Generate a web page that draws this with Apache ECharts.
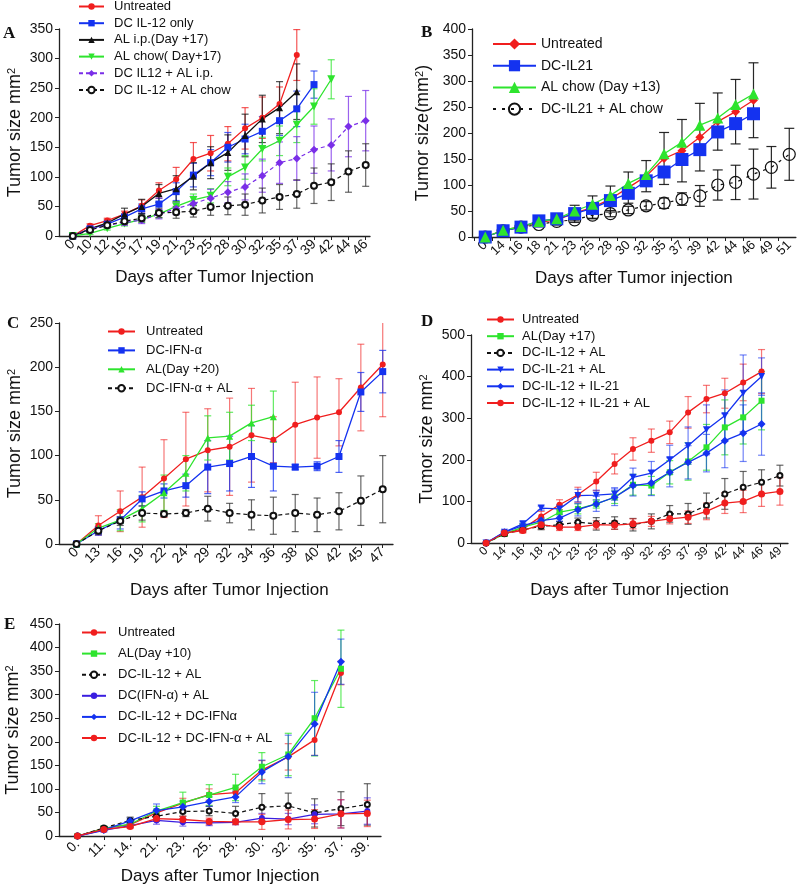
<!DOCTYPE html>
<html>
<head>
<meta charset="utf-8">
<title>Tumor size after DC / AL treatment</title>
<script src="https://cdn.jsdelivr.net/npm/echarts@6/dist/echarts.min.js"></script>
<style>
  html, body { margin: 0; padding: 0; background: #fff; }
  #chart { width: 798px; height: 888px; }
</style>
</head>
<body>
<div id="chart"></div>
<script>
// ---- panel A ----
const daysA = ['0', '10', '12', '15', '17', '19', '21', '23', '25', '28', '30', '32', '35', '37', '39', '42', '44', '46']
const aUntreated = [0, 17.5, 26, 37, 51, 77, 96, 130, 140, 156, 182, 200, 223, 306]
const aUntreatedErr = [0, 3, 4, 5, 10, 13, 20, 28, 30, 29, 35, 35, 29, 43]
const aDcIl12 = [0, 12, 20, 32, 46, 54, 75, 103, 124, 150, 164, 177, 195, 215, 256]
const aDcIl12Err = [0, 3, 4, 5, 8, 10, 15, 20, 22, 25, 25, 25, 25, 30, 23]
const aAlIp = [0, 12, 22, 37, 50, 72, 80, 101, 124, 141, 170, 198, 217, 244]
const aAlIpErr = [0, 3, 5, 10, 12, 15, 22, 23, 27, 30, 36, 40, 44, 47]
const aAlChow = [0, 4.5, 13, 21, 28, 37, 50, 61, 68, 100, 116, 147, 161, 188, 219, 265]
const aAlChowErr = [0, 2, 3, 4, 5, 6, 8, 10, 12, 15, 20, 20, 25, 30, 30, 33]
const aDcIl12AlIp = [0, 12, 18, 23, 27, 37, 46, 55, 64, 74, 83, 102, 124, 131, 146, 154, 185, 195]
const aDcIl12AlIpErr = [0, 3, 4, 5, 6, 8, 10, 12, 15, 18, 22, 28, 35, 37, 40, 44, 51, 51]
const aDcIl12Chow = [0, 10, 18, 25, 30, 39, 40, 42, 49, 51, 53, 60, 66, 71, 85, 91, 109, 120]
const aDcIl12ChowErr = [0, 3, 4, 5, 6, 8, 10, 10, 14, 15, 18, 21, 21, 24, 30, 31, 35, 36]

// ---- panel B ----
const daysB = ['0', '14', '16', '18', '21', '23', '25', '28', '30', '32', '35', '37', '39', '42', '44', '46', '49', '51']
const bUntreated = [0, 13, 20, 28, 33, 46, 57, 73, 95, 117, 151, 166, 192, 222, 241, 263]
const bUntreatedErr = [0, 3, 4, 8, 10, 15, 22, 25, 30, 30, 50, 60, 65, 55, 62, 72]
const bDcIl21 = [0, 12, 19, 31, 35, 45, 55, 70, 84, 108, 125, 149, 168, 202, 218, 237]
const bAlChow = [0, 13, 20, 30, 35, 50, 63, 80, 103, 120, 160, 182, 215, 229, 255, 275]
const bDcIl21Chow = [0, 12, 19, 24, 30, 33, 42, 45, 52, 60, 65, 73, 79, 100, 105, 121, 134, 159]
const bDcIl21ChowErr = [0, 2, 3, 4, 4, 5, 6, 6, 7, 8, 10, 12, 20, 29, 33, 48, 40, 50]

// ---- panel C ----
const daysC = ['0', '13', '16', '19', '22', '24', '29', '32', '34', '36', '38', '40', '42', '45', '47']
const cUntreated = [0, 21, 37, 53, 74, 96, 106, 110, 123, 118, 135, 143, 149, 177, 203]
const cUntreatedErr = [0, 11, 23, 34, 44, 53, 47, 55, 53, 26, 48, 46, 38, 49, 59]
const cDcIfn = [0, 15, 27, 51, 60, 66, 87, 91, 99, 88, 87, 88, 99, 172, 195]
const cDcIfnErr = [0, 5, 10, 8, 8, 13, 30, 31, 35, 28, 3, 5, 18, 22, 24]
const cAl = [0, 18, 27, 40, 58, 80, 120, 122, 137, 144]
const cAlErr = [0, 5, 12, 15, 20, 20, 25, 27, 20, 29]
const cDcIfnAl = [0, 15, 26, 35, 34, 35, 40, 35, 33, 32, 35, 33, 37, 49, 62]
const cDcIfnAlErr = [0, 4, 5, 8, 3, 4, 14, 11, 17, 21, 21, 19, 21, 28, 38]

// ---- panel D ----
const daysD = ['0', '14', '16', '18', '21', '23', '25', '28', '30', '32', '35', '37', '39', '42', '44', '46', '49']
const dUntreated = [0, 24, 34, 64, 92, 116, 148, 190, 226, 246, 266, 314, 346, 360, 386, 412]
const dUntreatedErr = [0, 5, 8, 12, 12, 18, 22, 24, 27, 28, 27, 38, 33, 36, 44, 53]
const dAl = [0, 22, 38, 50, 74, 82, 94, 110, 140, 138, 170, 196, 230, 278, 302, 342]
const dAlErr = [0, 5, 8, 10, 15, 12, 10, 15, 25, 22, 28, 45, 55, 66, 64, 70]
const dDcIl12Al = [0, 22, 32, 40, 44, 50, 46, 48, 44, 52, 70, 70, 90, 118, 134, 146, 162]
const dDcIl12AlErr = [0, 5, 5, 8, 8, 10, 15, 15, 15, 18, 20, 25, 30, 37, 38, 30, 25]
const dDcIl21Al = [0, 26, 46, 84, 82, 114, 115, 118, 158, 168, 200, 234, 272, 306, 360, 400]
const dDcIl21AlErr = [0, 3, 5, 5, 10, 15, 12, 15, 22, 28, 35, 45, 60, 62, 92, 45]
const dDcIl12Il21 = [0, 26, 42, 54, 60, 80, 94, 110, 138, 144, 170, 194, 216, 246, 264, 286]
const dDcIl12Il21Err = [0, 3, 5, 6, 8, 15, 18, 20, 25, 30, 35, 40, 45, 65, 68, 75]
const dTriple = [0, 24, 30, 44, 38, 38, 44, 43, 46, 52, 58, 62, 76, 96, 100, 118, 124]
const dTripleErr = [0, 3, 6, 10, 8, 8, 10, 10, 12, 12, 12, 15, 20, 25, 27, 30, 33]

// ---- panel E ----
const daysE = ['0.', '11.', '14.', '21.', '23.', '25.', '28.', '30.', '32.', '35.', '37.', '39.']
const eUntreated = [0, 16, 24, 49, 70, 88, 92, 140, 168, 204, 346]
const eUntreatedErr = [0, 4, 5, 6, 10, 12, 10, 20, 28, 33, 25]
const eAl = [0, 16, 25, 53, 71, 87, 103, 147, 173, 250, 355]
const eAlErr = [0, 4, 6, 10, 22, 22, 28, 30, 45, 80, 82]
const eDcIl12Al = [0, 17, 33, 42, 52, 53, 48, 61, 64, 49, 58, 67]
const eDcIl12AlErr = [0, 4, 7, 10, 10, 10, 15, 29, 27, 30, 36, 44]
const eDcIfnAl = [0, 12, 22, 33, 29, 28, 29, 38, 36, 46, 47, 53]
const eDcIfnAlErr = [0, 3, 4, 8, 8, 6, 5, 10, 12, 20, 30, 28]
const eDcIl12DcIfn = [0, 13, 32, 54, 62, 73, 83, 136, 169, 238, 370]
const eDcIl12DcIfnErr = [0, 4, 6, 14, 12, 10, 12, 25, 45, 67, 48]
const eTriple = [0, 14, 20, 37, 35, 31, 30, 30, 35, 36, 47, 48]
const eTripleErr = [0, 3, 4, 6, 7, 7, 6, 16, 20, 20, 30, 28]

const RED = '#f01e1e'
const BLUE = '#1432f0'
const GREEN = '#2ee42e'
const BLACK = '#111'
const PURPLE = '#7a2ee8'
const VIOLET = '#3a1ee0'

function pts(vals) { return vals.map((v, i) => [i, v]) }
function bars(vals, err) { return vals.map((v, i) => [i, v - err[i], v + err[i]]) }

function line(p, name, vals, color, symbol, size, opts) {
	return Object.assign({
		name: 'ABCDE'[p] + '|' + name,
		type: 'line',
		xAxisIndex: p,
		yAxisIndex: p,
		data: pts(vals),
		symbol: symbol,
		symbolSize: size,
		itemStyle: { color: color },
		lineStyle: { color: color, width: 1.3 },
		z: 3
	}, opts || {})
}

function dashed(color, dash) {
	return { lineStyle: { color: color, width: 1.2, type: dash || [4, 3] } }
}

function errBar(p, vals, err, color, cap, opacity) {
	return {
		type: 'custom',
		xAxisIndex: p,
		yAxisIndex: p,
		clip: true,
		silent: true,
		z: 2,
		data: bars(vals, err),
		encode: { x: 0, y: [1, 2] },
		renderItem(params, api) {
			const x = api.value(0)
			const lo = api.value(1)
			const hi = api.value(2)
			if (hi - lo <= 0) return
			const a = api.coord([x, lo])
			const b = api.coord([x, hi])
			const style = { stroke: color, lineWidth: 1.2, opacity: opacity || 0.75 }
			return {
				type: 'group',
				children: [
					{ type: 'line', shape: { x1: a[0], y1: a[1], x2: b[0], y2: b[1] }, style: style },
					{ type: 'line', shape: { x1: a[0] - cap, y1: a[1], x2: a[0] + cap, y2: a[1] }, style: style },
					{ type: 'line', shape: { x1: b[0] - cap, y1: b[1], x2: b[0] + cap, y2: b[1] }, style: style }
				]
			}
		}
	}
}

const axisColor = '#222'

function xAx(p, days, min, max, name, gap, fontSize, tickShift) {
	const idx = days.map((d, i) => i)
	return {
		type: 'value',
		gridIndex: p,
		min: min,
		max: max,
		axisLine: { show: true, onZero: false, lineStyle: { color: axisColor, width: 1.3 } },
		axisTick: { show: true, length: 4, customValues: idx.map(i => i + (tickShift || 0)), lineStyle: { color: axisColor } },
		axisLabel: {
			// blank labels at both ends keep every day label visible
			customValues: [min].concat(idx, [max]),
			formatter: v => (Number.isInteger(v) ? days[v] : ''),
			rotate: 45,
			fontSize: fontSize,
			color: '#111',
			margin: 6,
			showMinLabel: true,
			showMaxLabel: true,
			hideOverlap: false
		},
		splitLine: { show: false },
		name: name,
		nameLocation: 'middle',
		nameGap: gap,
		nameTextStyle: { fontSize: 17, color: '#111' }
	}
}

function yAx(p, max, interval, name, gap) {
	return {
		type: 'value',
		gridIndex: p,
		min: 0,
		max: max,
		interval: interval,
		axisLine: { show: true, onZero: false, lineStyle: { color: axisColor, width: 1.3 } },
		axisTick: { show: true, length: 4, lineStyle: { color: axisColor } },
		axisLabel: { fontSize: 14, color: '#111', margin: 6 },
		splitLine: { show: false },
		name: name,
		nameLocation: 'middle',
		nameGap: gap,
		nameTextStyle: {
			fontSize: 18,
			color: '#111',
			rich: { s: { fontSize: 11, verticalAlign: 'top', color: '#111' } }
		}
	}
}

function legendOf(p, names, left, top, itemWidth, itemHeight, itemGap, fontSize, textPad) {
	return {
		data: names.map(n => 'ABCDE'[p] + '|' + n),
		orient: 'vertical',
		left: left,
		top: top,
		padding: 0,
		itemWidth: itemWidth,
		itemHeight: itemHeight,
		itemGap: itemGap,
		selectedMode: false,
		formatter: n => n.split('|')[1],
		textStyle: { fontSize: fontSize, color: '#111', padding: [0, 0, 0, textPad] }
	}
}

function letter(text, x, y) {
	return {
		type: 'text',
		left: x,
		top: y,
		style: { text: text, font: 'bold 17px "Liberation Serif", serif', fill: '#111' }
	}
}

const chart = echarts.init(document.getElementById('chart'))

chart.setOption({
	animation: false,
	textStyle: { fontFamily: '"Liberation Sans", Arial, sans-serif' },
	grid: [
		{ left: 59, top: 29, width: 311, height: 207 },
		{ left: 472, top: 29, width: 325, height: 208 },
		{ left: 59, top: 323, width: 334, height: 221 },
		{ left: 471, top: 335, width: 317, height: 208 },
		{ left: 59, top: 624, width: 322, height: 212 }
	],
	xAxis: [
		xAx(0, daysA, -0.8, 17.25, 'Days after Tumor Injection', 33, 14),
		xAx(1, daysB, -0.74, 17.37, 'Days after Tumor injection', 33, 13, -0.6),
		xAx(2, daysC, -0.8, 14.47, '', 37, 14),
		xAx(3, daysD, -0.82, 16.44, 'Days after Tumor Injection', 39, 12),
		xAx(4, daysE, -0.7, 11.52, 'Days after Tumor Injection', 32, 14)
	],
	yAxis: [
		yAx(0, 350, 50, 'Tumor size mm{s|2}', 35),
		yAx(1, 400, 50, 'Tumor size(mm{s|2})', 40),
		yAx(2, 250, 50, 'Tumor size mm{s|2}', 35),
		yAx(3, 500, 100, 'Tumor size mm{s|2}', 35),
		yAx(4, 450, 50, 'Tumor size mm{s|2}', 37)
	],
	legend: [
		legendOf(0, ['Untreated', 'DC IL-12 only', 'AL i.p.(Day +17)', 'AL chow( Day+17)', 'DC IL12 + AL i.p.', 'DC IL-12 + AL chow'], 78, 0, 25, 8, 3.7, 13, 5),
		legendOf(1, ['Untreated', 'DC-IL21', 'AL chow (Day +13)', 'DC-IL21 + AL chow'], 492, 37, 43, 14, 7.7, 14, 0),
		legendOf(2, ['Untreated', 'DC-IFN-α', 'AL(Day +20)', 'DC-IFN-α + AL'], 107, 325, 27, 8, 5.9, 13, 6),
		legendOf(3, ['Untreated', 'AL(Day +17)', 'DC-IL-12 + AL', 'DC-IL-21 + AL', 'DC-IL-12 + IL-21', 'DC-IL-12 + IL-21 + AL'], 486, 313, 27, 8, 3.7, 13, 3),
		legendOf(4, ['Untreated', 'AL(Day +10)', 'DC-IL-12 + AL', 'DC(IFN-α) + AL', 'DC-IL-12 + DC-IFNα', 'DC-IL-12 + DC-IFN-α + AL'], 81, 626, 24, 8, 8.1, 13, 7)
	],
	graphic: [
		letter('A', 3, 25),
		letter('B', 421, 24),
		letter('C', 7, 315),
		letter('D', 421, 313),
		letter('E', 4, 616),
		{ type: 'text', left: 130, top: 582, style: { text: 'Days after Tumor Injection', font: '17px "Liberation Sans", Arial, sans-serif', fill: '#111' } }
	],
	series: [
		// A
		errBar(0, aUntreated, aUntreatedErr, RED, 3.5),
		errBar(0, aDcIl12, aDcIl12Err, BLUE, 3.5),
		errBar(0, aAlIp, aAlIpErr, BLACK, 3.5),
		errBar(0, aAlChow, aAlChowErr, GREEN, 3.5),
		errBar(0, aDcIl12AlIp, aDcIl12AlIpErr, PURPLE, 3.5),
		errBar(0, aDcIl12Chow, aDcIl12ChowErr, '#333', 3.5),
		line(0, 'Untreated', aUntreated, RED, 'circle', 6),
		line(0, 'DC IL-12 only', aDcIl12, BLUE, 'rect', 7),
		line(0, 'AL i.p.(Day +17)', aAlIp, BLACK, 'triangle', 7),
		line(0, 'AL chow( Day+17)', aAlChow, GREEN, 'triangle', 8, { symbolRotate: 180 }),
		line(0, 'DC IL12 + AL i.p.', aDcIl12AlIp, PURPLE, 'diamond', 8, dashed(PURPLE)),
		line(0, 'DC IL-12 + AL chow', aDcIl12Chow, BLACK, 'emptyCircle', 6, dashed(BLACK)),
		// B
		errBar(1, bUntreated, bUntreatedErr, BLACK, 5, 0.9),
		errBar(1, bDcIl21Chow, bDcIl21ChowErr, BLACK, 5, 0.9),
		line(1, 'DC-IL21 + AL chow', bDcIl21Chow, BLACK, 'circle', 12, {
			itemStyle: { color: 'rgba(255,255,255,0)', borderColor: BLACK, borderWidth: 1.2 },
			lineStyle: { color: BLACK, width: 1.2, type: [3, 6] }
		}),
		line(1, 'Untreated', bUntreated, RED, 'diamond', 9),
		line(1, 'DC-IL21', bDcIl21, BLUE, 'rect', 13),
		line(1, 'AL chow (Day +13)', bAlChow, GREEN, 'triangle', 11),
		// C
		errBar(2, cUntreated, cUntreatedErr, RED, 3.5, 0.6),
		errBar(2, cDcIfn, cDcIfnErr, BLUE, 3.5),
		errBar(2, cAl, cAlErr, GREEN, 3.5),
		errBar(2, cDcIfnAl, cDcIfnAlErr, '#333', 3.5),
		line(2, 'Untreated', cUntreated, RED, 'circle', 6),
		line(2, 'DC-IFN-α', cDcIfn, BLUE, 'rect', 7),
		line(2, 'AL(Day +20)', cAl, GREEN, 'triangle', 7),
		line(2, 'DC-IFN-α + AL', cDcIfnAl, BLACK, 'emptyCircle', 6, dashed(BLACK)),
		// D
		errBar(3, dUntreated, dUntreatedErr, RED, 3.5, 0.6),
		errBar(3, dAl, dAlErr, GREEN, 3.5),
		errBar(3, dDcIl12Al, dDcIl12AlErr, '#333', 3.5),
		errBar(3, dDcIl21Al, dDcIl21AlErr, BLUE, 3.5, 0.6),
		errBar(3, dDcIl12Il21, dDcIl12Il21Err, BLUE, 3.5, 0.6),
		errBar(3, dTriple, dTripleErr, RED, 3.5, 0.6),
		line(3, 'Untreated', dUntreated, RED, 'circle', 6),
		line(3, 'AL(Day +17)', dAl, GREEN, 'rect', 6),
		line(3, 'DC-IL-12 + AL', dDcIl12Al, BLACK, 'emptyCircle', 5, dashed(BLACK)),
		line(3, 'DC-IL-21 + AL', dDcIl21Al, BLUE, 'triangle', 7, { symbolRotate: 180 }),
		line(3, 'DC-IL-12 + IL-21', dDcIl12Il21, BLUE, 'diamond', 8),
		line(3, 'DC-IL-12 + IL-21 + AL', dTriple, RED, 'circle', 7),
		// E
		errBar(4, eUntreated, eUntreatedErr, RED, 3.5, 0.6),
		errBar(4, eAl, eAlErr, GREEN, 3.5),
		errBar(4, eDcIl12Al, eDcIl12AlErr, '#333', 3.5),
		errBar(4, eDcIfnAl, eDcIfnAlErr, VIOLET, 3.5, 0.6),
		errBar(4, eDcIl12DcIfn, eDcIl12DcIfnErr, BLUE, 3.5, 0.6),
		errBar(4, eTriple, eTripleErr, RED, 3.5, 0.6),
		line(4, 'Untreated', eUntreated, RED, 'circle', 6),
		line(4, 'AL(Day +10)', eAl, GREEN, 'rect', 6),
		line(4, 'DC-IL-12 + AL', eDcIl12Al, BLACK, 'emptyCircle', 5, dashed(BLACK)),
		line(4, 'DC(IFN-α) + AL', eDcIfnAl, VIOLET, 'circle', 6),
		line(4, 'DC-IL-12 + DC-IFNα', eDcIl12DcIfn, BLUE, 'diamond', 8),
		line(4, 'DC-IL-12 + DC-IFN-α + AL', eTriple, RED, 'circle', 7)
	]
})
</script>
</body>
</html>
